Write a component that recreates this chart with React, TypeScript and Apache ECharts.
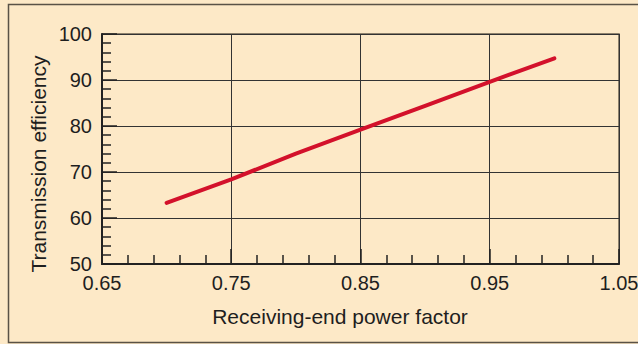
import React, { useEffect, useRef } from "react";
import * as echarts from "echarts";

const powerFactor = [0.7, 0.75, 0.8, 0.85, 0.9, 0.95, 1.0];
const efficiency = [63.3, 68.4, 74.0, 79.2, 84.4, 89.6, 94.7];
const xTicks = { min: 0.65, max: 1.05, interval: 0.1 };
const yTicks = { min: 50, max: 100, interval: 10 };
const xName = "Receiving-end power factor";
const yName = "Transmission efficiency";

const FONT = "'Liberation Sans', Arial, Helvetica, sans-serif";
const TEXT = "#1e1e1e";

export default function App() {
  const ref = useRef<HTMLDivElement>(null);
  useEffect(() => {
    document.body.style.margin = "0";
    const chart = echarts.init(ref.current!, null, { renderer: "svg" });
    chart.setOption({
      animation: false,
      backgroundColor: "#fde9c7",
      graphic: [
        {
          type: "rect",
          shape: { x: 8.5, y: 4.5, width: 700, height: 338 },
          style: { fill: "none", stroke: "#5a5246", lineWidth: 1.5 },
          silent: true,
        },
        {
          type: "text",
          x: 340,
          y: 316,
          style: {
            text: xName,
            fontSize: 21,
            fontFamily: FONT,
            fill: TEXT,
            align: "center",
            verticalAlign: "middle",
          },
          silent: true,
        },
        {
          type: "text",
          x: 38,
          y: 164,
          rotation: Math.PI / 2,
          style: {
            text: yName,
            fontSize: 21,
            fontFamily: FONT,
            fill: TEXT,
            align: "center",
            verticalAlign: "middle",
          },
          silent: true,
        },
      ],
      grid: {
        left: 102,
        top: 34,
        width: 517,
        height: 230,
        show: true,
        borderColor: "#6a6050",
        borderWidth: 1.5,
        backgroundColor: "transparent",
        containLabel: false,
        outerBoundsMode: "none",
      },
      xAxis: {
        type: "value",
        min: xTicks.min,
        max: xTicks.max,
        interval: xTicks.interval,
        axisLine: { show: true, lineStyle: { color: "#222", width: 2 } },
        axisTick: { show: true, inside: true, length: 15, lineStyle: { color: "#222", width: 1.5 } },
        minorTick: { show: true, splitNumber: 5, length: 9, lineStyle: { color: "#222", width: 1.5 } },
        axisLabel: {
          fontSize: 20,
          color: TEXT,
          fontFamily: FONT,
          margin: 9,
          formatter: (v: number) => v.toFixed(2),
        },
        splitLine: { show: true, lineStyle: { color: "#333", width: 1 } },
      },
      yAxis: {
        type: "value",
        min: yTicks.min,
        max: yTicks.max,
        interval: yTicks.interval,
        axisLine: { show: true, lineStyle: { color: "#222", width: 2 } },
        axisTick: { show: true, inside: true, length: 15, lineStyle: { color: "#222", width: 1.5 } },
        minorTick: { show: true, splitNumber: 5, length: 9, lineStyle: { color: "#222", width: 1.5 } },
        axisLabel: { fontSize: 20, color: TEXT, fontFamily: FONT, margin: 10 },
        splitLine: { show: true, lineStyle: { color: "#333", width: 1 } },
      },
      series: [
        {
          type: "line",
          data: powerFactor.map((x, i) => [x, efficiency[i]]),
          showSymbol: false,
          symbol: "none",
          lineStyle: { color: "#d3112b", width: 4, cap: "round" },
        },
      ],
    });
    return () => chart.dispose();
  }, []);
  return (
    <div
      ref={ref}
      style={{ position: "absolute", left: 0, top: 0, width: 638, height: 344 }}
    />
  );
}
